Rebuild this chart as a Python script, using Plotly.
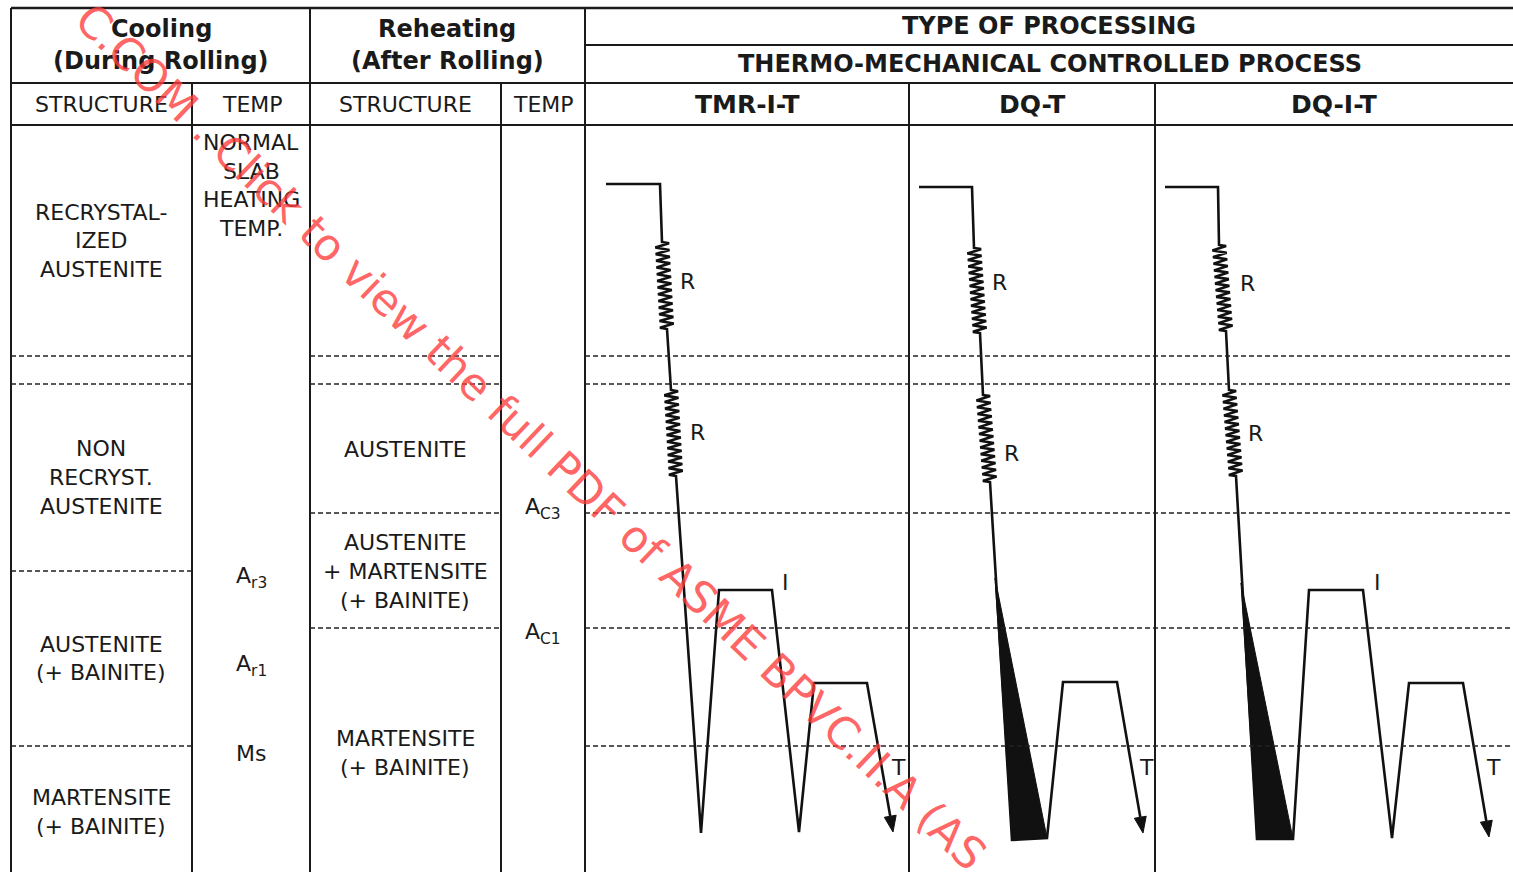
import numpy as np
import plotly.graph_objects as go

W, H = 1513, 872

# ---------------- process paths (pixel units) ----------------
# TMR-I-T
tmr_hold_x = [606, 660, 662]
tmr_hold_y = [184, 184, 242]
tmr_spring_x = [[662, 667], [671, 676]]
tmr_spring_y = [[242, 329], [390, 476]]
tmr_cycle_x = [676, 701, 719, 772, 799, 814, 867, 893]
tmr_cycle_y = [476, 833, 590, 590, 832, 683, 683, 832]

# DQ-T
dqt_hold_x = [919, 972, 974]
dqt_hold_y = [187, 187, 248]
dqt_spring_x = [[974, 980], [983, 990]]
dqt_spring_y = [[248, 333], [395, 482]]
dqt_cycle_x = [990, 1012, 1047, 1063, 1117, 1143]
dqt_cycle_y = [482, 840, 838, 682, 682, 833]
dqt_quench_x = [995, 1012, 1047]
dqt_quench_y = [578, 840, 838]

# DQ-I-T
dqit_hold_x = [1165, 1218, 1219]
dqit_hold_y = [187, 187, 245]
dqit_spring_x = [[1219, 1226], [1229, 1236]]
dqit_spring_y = [[245, 331], [390, 476]]
dqit_cycle_x = [1236, 1257, 1293, 1309, 1363, 1392, 1409, 1463, 1489]
dqit_cycle_y = [476, 839, 839, 590, 590, 838, 683, 683, 837]
dqit_quench_x = [1241, 1257, 1293]
dqit_quench_y = [583, 839, 839]

# ---------------- table texts ----------------
header_bold = [
    ("Cooling", 161, 29, 24), ("(During Rolling)", 161, 61, 24),
    ("Reheating", 447, 29, 24), ("(After Rolling)", 447, 61, 24),
    ("TYPE OF PROCESSING", 1049, 26, 24),
    ("THERMO-MECHANICAL CONTROLLED PROCESS", 1050, 64, 24),
    ("TMR-I-T", 747, 104, 25), ("DQ-T", 1032, 104, 25), ("DQ-I-T", 1334, 104, 25),
]
body_text = [
    ("STRUCTURE", 101, 104), ("TEMP", 252, 104), ("STRUCTURE", 405, 104), ("TEMP", 543, 104),
    ("RECRYSTAL-", 101, 212), ("IZED", 101, 240), ("AUSTENITE", 101, 269),
    ("NORMAL", 251, 142), ("SLAB", 251, 171), ("HEATING", 251, 199), ("TEMP.", 251, 228),
    ("NON", 101, 448), ("RECRYST.", 101, 477), ("AUSTENITE", 101, 506),
    ("AUSTENITE", 101, 644), ("(+ BAINITE)", 101, 672),
    ("MARTENSITE", 101, 797), ("(+ BAINITE)", 101, 826),
    ("A<sub>r3</sub>", 251, 577), ("A<sub>r1</sub>", 251, 665), ("Ms", 251, 753),
    ("AUSTENITE", 405, 449),
    ("AUSTENITE", 405, 542), ("+ MARTENSITE", 405, 571), ("(+ BAINITE)", 405, 600),
    ("MARTENSITE", 405, 738), ("(+ BAINITE)", 405, 767),
    ("A<sub>C3</sub>", 543, 508), ("A<sub>C1</sub>", 543, 633),
]
path_labels = [
    ("R", 687, 281), ("R", 697, 432), ("I", 785, 582), ("T", 898, 767),
    ("R", 999, 282), ("R", 1011, 453), ("T", 1146, 767),
    ("R", 1247, 283), ("R", 1255, 433), ("I", 1377, 582), ("T", 1493, 767),
]
watermark = "C.COM . Click to view the full PDF of ASME BPVC.II.A (AS"

# ---------------- table grid geometry ----------------
solid_h = [(8, 11, 1513), (45, 585, 1513), (83, 11, 1513), (125, 11, 1513)]
solid_v = [(11, 8, 872), (192, 83, 872), (310, 8, 872), (501, 83, 872),
           (585, 8, 872), (909, 83, 872), (1155, 83, 872)]
seg_cool, seg_reh, seg_proc = (11, 192), (310, 501), (585, 1513)
dashed_h = [
    (356, [seg_cool, seg_reh, seg_proc]),
    (384, [seg_cool, seg_reh, seg_proc]),
    (513, [seg_reh, seg_proc]),
    (571, [seg_cool]),
    (628, [seg_reh, seg_proc]),
    (746, [seg_cool, seg_proc]),
]

INK = "#1a1a1a"
FONT = "DejaVu Sans"


def spring(x0, y0, x1, y1, n=13, amp=7.0):
    dx, dy = x1 - x0, y1 - y0
    L = np.hypot(dx, dy)
    nx, ny = dy / L, -dx / L
    xs, ys = [x0], [y0]
    for i in range(2 * n):
        t = (i + 0.5) / (2 * n)
        s = 1 if i % 2 == 0 else -1
        xs.append(x0 + t * dx + s * amp * nx)
        ys.append(y0 + t * dy + s * amp * ny)
    xs.append(x1)
    ys.append(y1)
    return xs, ys


def arrow_head(xp, yp, xt, yt, length=16, half=6):
    ux, uy = xt - xp, yt - yp
    L = np.hypot(ux, uy)
    ux, uy = ux / L, uy / L
    bx, by = xt - ux * length, yt - uy * length
    nx, ny = -uy, ux
    return ([xt, bx + nx * half, bx - nx * half, xt],
            [yt, by + ny * half, by - ny * half, yt], bx, by)


fig = go.Figure()

shapes = []
for y, x0, x1 in solid_h:
    shapes.append(dict(type="line", x0=x0, x1=x1, y0=y, y1=y,
                       line=dict(color=INK, width=2.5 if y == 8 else 2)))
for x, y0, y1 in solid_v:
    shapes.append(dict(type="line", x0=x, x1=x, y0=y0, y1=y1,
                       line=dict(color=INK, width=2)))
for y, segs in dashed_h:
    for x0, x1 in segs:
        shapes.append(dict(type="line", x0=x0, x1=x1, y0=y, y1=y,
                           line=dict(color="#222222", width=1.6, dash="5px,3px")))


def add_process(hold_x, hold_y, spr_x, spr_y, cyc_x, cyc_y, quench=None):
    if quench is not None:
        qx, qy = quench
        fig.add_trace(go.Scatter(x=qx + [qx[0]], y=qy + [qy[0]], mode="lines",
                                 fill="toself", fillcolor="#111111",
                                 line=dict(color="#111111", width=1),
                                 hoverinfo="skip"))
    xs, ys = list(hold_x), list(hold_y)
    for (sx0, sx1), (sy0, sy1) in zip(spr_x, spr_y):
        zx, zy = spring(sx0, sy0, sx1, sy1)
        if (xs[-1], ys[-1]) == (zx[0], zy[0]):
            zx, zy = zx[1:], zy[1:]
        xs += zx
        ys += zy
    cx, cy = list(cyc_x), list(cyc_y)
    hx, hy, bx, by = arrow_head(cx[-2], cy[-2], cx[-1], cy[-1])
    cx[-1], cy[-1] = bx, by
    xs += cx[1:]
    ys += cy[1:]
    fig.add_trace(go.Scatter(x=xs, y=ys, mode="lines",
                             line=dict(color="#111111", width=2.6),
                             hoverinfo="skip"))
    fig.add_trace(go.Scatter(x=hx, y=hy, mode="lines", fill="toself",
                             fillcolor="#111111", line=dict(color="#111111", width=1),
                             hoverinfo="skip"))


add_process(tmr_hold_x, tmr_hold_y, tmr_spring_x, tmr_spring_y, tmr_cycle_x, tmr_cycle_y)
add_process(dqt_hold_x, dqt_hold_y, dqt_spring_x, dqt_spring_y, dqt_cycle_x, dqt_cycle_y,
            quench=(dqt_quench_x, dqt_quench_y))
add_process(dqit_hold_x, dqit_hold_y, dqit_spring_x, dqit_spring_y, dqit_cycle_x, dqit_cycle_y,
            quench=(dqit_quench_x, dqit_quench_y))

annotations = []
for txt, x, y, size in header_bold:
    annotations.append(dict(x=x, y=y, text="<b>" + txt + "</b>", showarrow=False,
                            xanchor="center", yanchor="middle",
                            font=dict(family=FONT, size=size, color=INK)))
for txt, x, y in body_text:
    annotations.append(dict(x=x, y=y, text=txt, showarrow=False,
                            xanchor="center", yanchor="middle",
                            font=dict(family=FONT, size=22, color=INK)))
for txt, x, y in path_labels:
    annotations.append(dict(x=x, y=y, text=txt, showarrow=False,
                            xanchor="center", yanchor="middle",
                            font=dict(family=FONT, size=22, color=INK)))
annotations.append(dict(x=531, y=436, text=watermark, showarrow=False,
                        textangle=43.5, xanchor="center", yanchor="middle",
                        font=dict(family=FONT, size=44, color="rgba(255,60,60,0.8)")))

fig.update_layout(
    width=W, height=H, autosize=False,
    margin=dict(l=0, r=0, t=0, b=0, pad=0),
    paper_bgcolor="white", plot_bgcolor="white",
    showlegend=False,
    xaxis=dict(range=[0, W], visible=False, fixedrange=True),
    yaxis=dict(range=[H, 0], visible=False, fixedrange=True),
    shapes=shapes, annotations=annotations,
)

fig.write_html("out.html", config={"displayModeBar": False},
               post_script="document.body.style.margin='0';document.body.style.padding='0';")
